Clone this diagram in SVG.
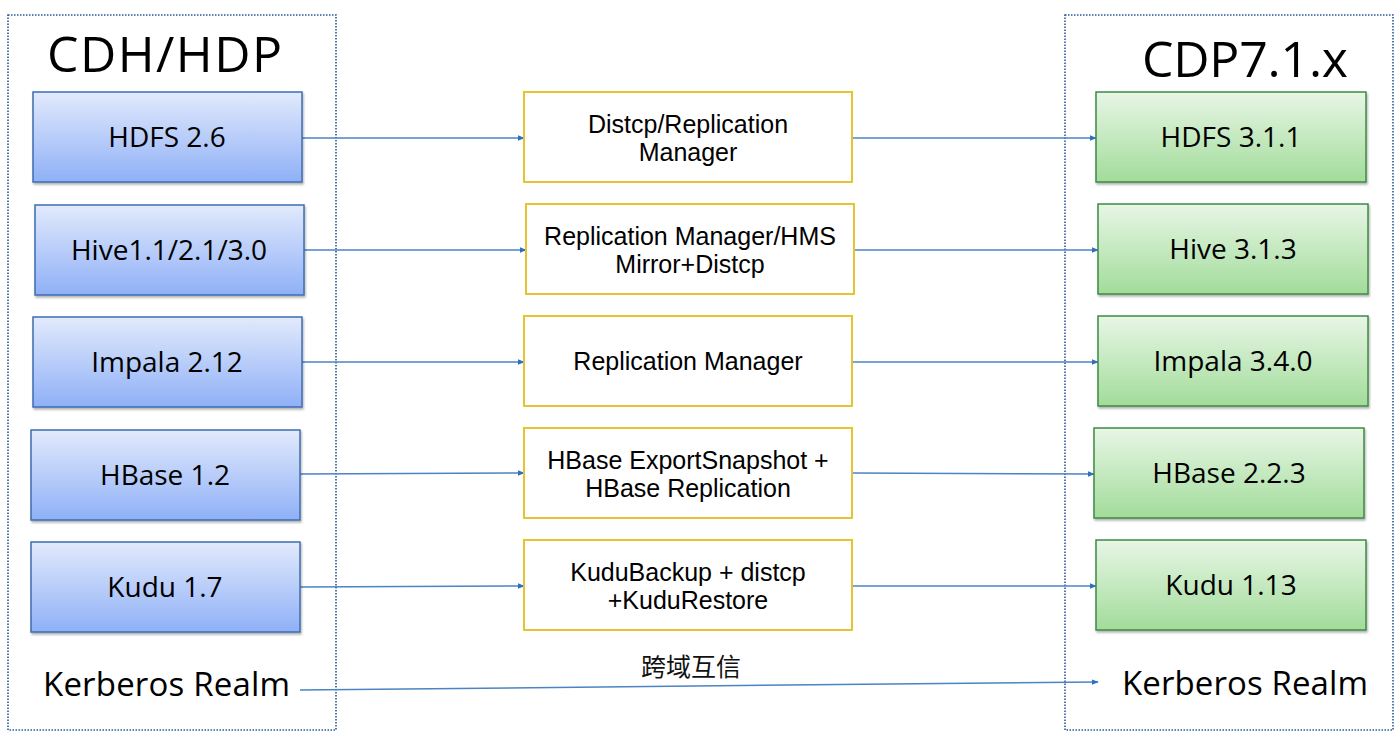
<svg xmlns="http://www.w3.org/2000/svg" width="1400" height="738" viewBox="0 0 1400 738">
<defs>
<linearGradient id="gb" x1="0" y1="0" x2="0" y2="1"><stop offset="0" stop-color="#e2eafc"/><stop offset="1" stop-color="#8fb0f7"/></linearGradient>
<linearGradient id="gg" x1="0" y1="0" x2="0" y2="1"><stop offset="0" stop-color="#e8f6e6"/><stop offset="1" stop-color="#a2dc9a"/></linearGradient>
<marker id="ah" viewBox="0 0 10 10" refX="9" refY="5" markerWidth="7" markerHeight="7" orient="auto" markerUnits="userSpaceOnUse"><path d="M0,1 L10,5 L0,9 z" fill="#2e6fc0"/></marker>
<filter id="sh" x="-5%" y="-5%" width="110%" height="115%"><feDropShadow dx="1" dy="2" stdDeviation="1.2" flood-color="#000" flood-opacity="0.3"/></filter>
</defs>
<style>
.cont{fill:none;stroke:#2b5797;stroke-width:1.6;stroke-dasharray:1.5 1.5}
.lb{fill:url(#gb);stroke:#3d6eb0;stroke-width:1.5;filter:url(#sh)}
.rb{fill:url(#gg);stroke:#3e8a43;stroke-width:1.5;filter:url(#sh)}
.mb{fill:#fff;stroke:#e6c42f;stroke-width:2}
.t{font-family:"Open Sans","Noto Sans","Liberation Sans",sans-serif;font-size:28px;fill:#000;text-anchor:middle}
.m{font-family:"Liberation Sans",Arial,sans-serif;font-size:25px;fill:#000;text-anchor:middle}
.big{font-family:"Open Sans","Noto Sans","Liberation Sans",sans-serif;font-size:50px;fill:#000}
.kr{font-family:"Open Sans","Noto Sans","Liberation Sans",sans-serif;font-size:33px;fill:#000}
.cn{font-family:"Noto Sans CJK SC",sans-serif;font-size:25px;fill:#111}
.c{fill:none;stroke:#4a84c4;stroke-width:1.5;marker-end:url(#ah)}
</style>
<rect width="1400" height="738" fill="#fff"/>
<rect class="cont" x="8" y="15" width="328" height="715"/>
<rect class="cont" x="1065" y="15" width="328" height="715"/>
<text class="big" x="47" y="72" textLength="235">CDH/HDP</text>
<text class="big" x="1142" y="77" textLength="206">CDP7.1.x</text>

<g id="connectors">
<line class="c" x1="302" y1="138" x2="524" y2="138"/>
<line class="c" x1="852" y1="138" x2="1096" y2="138"/>
<line class="c" x1="304" y1="250" x2="526" y2="250"/>
<line class="c" x1="854" y1="250" x2="1098" y2="250"/>
<line class="c" x1="302" y1="362" x2="524" y2="362"/>
<line class="c" x1="852" y1="362" x2="1098" y2="362"/>
<line class="c" x1="300" y1="474" x2="524" y2="473"/>
<line class="c" x1="852" y1="473" x2="1094" y2="474"/>
<line class="c" x1="300" y1="587" x2="524" y2="586"/>
<line class="c" x1="852" y1="586" x2="1096" y2="586"/>
<line class="c" x1="300" y1="690" x2="1098" y2="682"/>
<text class="cn" x="641" y="676">跨域互信</text>
</g>

<g id="n-hdfs26"><rect class="lb" x="33" y="92" width="269" height="90"/><text class="t" x="167" y="147">HDFS 2.6</text></g>
<g id="n-hive1"><rect class="lb" x="35" y="205" width="269" height="90"/><text class="t" x="169" y="260">Hive1.1/2.1/3.0</text></g>
<g id="n-impala212"><rect class="lb" x="33" y="317" width="269" height="90"/><text class="t" x="167" y="372">Impala 2.12</text></g>
<g id="n-hbase12"><rect class="lb" x="31" y="430" width="269" height="90"/><text class="t" x="165" y="485">HBase 1.2</text></g>
<g id="n-kudu17"><rect class="lb" x="31" y="542" width="269" height="90"/><text class="t" x="165" y="597">Kudu 1.7</text></g>
<g id="n-kerb-l"><text class="kr" x="43" y="696" textLength="247">Kerberos Realm</text></g>

<g id="n-distcp"><rect class="mb" x="524" y="92" width="328" height="90"/><text class="m" x="688" y="133">Distcp/Replication<tspan x="688" dy="28">Manager</tspan></text></g>
<g id="n-rmhms"><rect class="mb" x="526" y="204" width="328" height="90"/><text class="m" x="690" y="245">Replication Manager/HMS<tspan x="690" dy="28">Mirror+Distcp</tspan></text></g>
<g id="n-rm"><rect class="mb" x="524" y="316" width="328" height="90"/><text class="m" x="688" y="370">Replication Manager</text></g>
<g id="n-hbexp"><rect class="mb" x="524" y="428" width="328" height="90"/><text class="m" x="688" y="469">HBase ExportSnapshot +<tspan x="688" dy="28">HBase Replication</tspan></text></g>
<g id="n-kudub"><rect class="mb" x="524" y="540" width="328" height="90"/><text class="m" x="688" y="581">KuduBackup + distcp<tspan x="688" dy="28">+KuduRestore</tspan></text></g>

<g id="n-hdfs311"><rect class="rb" x="1096" y="92" width="270" height="90"/><text class="t" x="1231" y="147">HDFS 3.1.1</text></g>
<g id="n-hive313"><rect class="rb" x="1098" y="204" width="270" height="90"/><text class="t" x="1233" y="259">Hive 3.1.3</text></g>
<g id="n-impala340"><rect class="rb" x="1098" y="316" width="270" height="90"/><text class="t" x="1233" y="371">Impala 3.4.0</text></g>
<g id="n-hbase223"><rect class="rb" x="1094" y="428" width="270" height="90"/><text class="t" x="1229" y="483">HBase 2.2.3</text></g>
<g id="n-kudu113"><rect class="rb" x="1096" y="540" width="270" height="90"/><text class="t" x="1231" y="595">Kudu 1.13</text></g>
<g id="n-kerb-r"><text class="kr" x="1122" y="695" textLength="246">Kerberos Realm</text></g>
</svg>
